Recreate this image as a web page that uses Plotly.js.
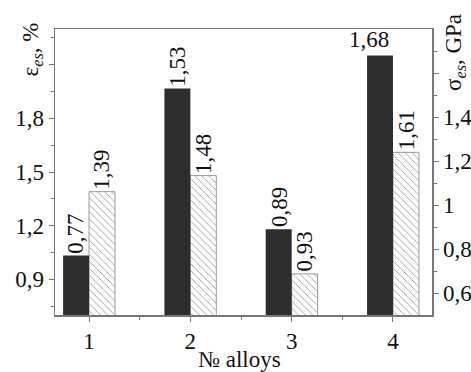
<!DOCTYPE html>
<html>
<head>
<meta charset="utf-8">
<script src="https://cdn.plot.ly/plotly-3.0.1.min.js"></script>
<style>html,body{margin:0;padding:0;background:#fff;}#chart{width:471px;height:372px;}</style>
</head>
<body>
<div id="chart"></div>
<script>
// Data
var alloys = [1, 2, 3, 4];
var alloyTicks = ['1', '2', '3', '4'];
var sigmaGPa = [0.77, 1.53, 0.89, 1.68];   // dark bars, right axis
var epsPct = [1.39, 1.48, 0.93, 1.61];     // hatched bars, left axis
var leftTickVals = [0.9, 1.2, 1.5, 1.8, 2.1];
var leftTickText = ['0,9', '1,2', '1,5', '1,8', ''];
var rightTickVals = [0.6, 0.8, 1.0, 1.2, 1.4, 1.6];
var rightTickText = ['0,6', '0,8', '1', '1,2', '1,4', ''];

var FONT = 'Liberation Serif';
var AX = '#777';
var BW = 0.256;

function fmt(v) { return v.toFixed(2).replace('.', ','); }

var traces = [
  {
    type: 'bar', x: alloys, y: sigmaGPa, yaxis: 'y2',
    offset: -BW, width: BW,
    marker: {color: '#2d2d2d', line: {width: 0}},
    hoverinfo: 'none', showlegend: false
  },
  {
    type: 'bar', x: alloys, y: epsPct, yaxis: 'y',
    offset: 0, width: BW,
    marker: {
      color: 'white',
      line: {color: '#999', width: 1},
      pattern: {shape: '\\', fgcolor: '#8a8a8a', bgcolor: 'white', size: 5, solidity: 0.15}
    },
    hoverinfo: 'none', showlegend: false
  }
];

var ann = [];
for (var i = 0; i < alloys.length; i++) {
  var horiz = (i === 3);
  ann.push({
    x: alloys[i] - BW / 2, y: sigmaGPa[i], xref: 'x', yref: 'y2',
    text: fmt(sigmaGPa[i]), textangle: horiz ? 0 : -90,
    xanchor: 'center', yanchor: 'bottom', yshift: horiz ? 1 : 0, xshift: horiz ? -11 : 0,
    showarrow: false, font: {family: FONT, size: 23, color: '#111'}
  });
  ann.push({
    x: alloys[i] + BW / 2, y: epsPct[i], xref: 'x', yref: 'y',
    text: fmt(epsPct[i]), textangle: -90,
    xanchor: 'center', yanchor: 'bottom', yshift: 0,
    showarrow: false, font: {family: FONT, size: 23, color: '#111'}
  });
}
ann.push({
  xref: 'paper', yref: 'paper', x: -0.06, y: 0.93, textangle: -90,
  text: 'ε<sub><i>es</i></sub>, %', showarrow: false,
  xanchor: 'center', yanchor: 'middle',
  font: {family: FONT, size: 23, color: '#111'}
});
ann.push({
  xref: 'paper', yref: 'paper', x: 1.061, y: 0.92, textangle: -90,
  text: 'σ<sub><i>es</i></sub>, GPa', showarrow: false,
  xanchor: 'center', yanchor: 'middle',
  font: {family: FONT, size: 23, color: '#111'}
});
ann.push({
  xref: 'paper', yref: 'paper', x: 0.49, y: -0.155,
  text: '№ alloys', showarrow: false,
  xanchor: 'center', yanchor: 'middle',
  font: {family: FONT, size: 23, color: '#111'}
});

var layout = {
  width: 471, height: 372,
  margin: {l: 55, r: 39, t: 29, b: 57, pad: 0},
  paper_bgcolor: 'white', plot_bgcolor: 'white',
  font: {family: FONT, size: 23, color: '#111'},
  showlegend: false,
  barmode: 'overlay',
  xaxis: {
    range: [0.664, 4.385], tickmode: 'array', tickvals: alloys, ticktext: alloyTicks,
    ticks: 'outside', ticklen: 5, tickwidth: 1, tickcolor: AX,
    minor: {tickmode: 'array', tickvals: [1.5, 2.5, 3.5], ticks: 'outside', ticklen: 3, tickcolor: AX},
    showline: true, linecolor: AX, linewidth: 1.5, mirror: true,
    showgrid: false, zeroline: false, fixedrange: true,
    tickfont: {family: FONT, size: 23, color: '#111'}
  },
  xaxis2: {
    overlaying: 'x', anchor: 'y', side: 'top', range: [0.664, 4.385],
    tickmode: 'array', tickvals: [1, 1.5, 2, 2.5, 3, 3.5, 4], showticklabels: false,
    ticks: 'inside', ticklen: 4, tickcolor: AX, showline: false, showgrid: false, zeroline: false
  },
  yaxis: {
    range: [0.7, 2.3], tickmode: 'array', tickvals: leftTickVals, ticktext: leftTickText,
    ticks: 'outside', ticklen: 5, tickwidth: 1, tickcolor: AX,
    minor: {tickmode: 'array', tickvals: [0.75, 1.05, 1.35, 1.65, 1.95, 2.25], ticks: 'outside', ticklen: 3, tickcolor: AX},
    showline: true, linecolor: AX, linewidth: 1.5,
    showgrid: false, zeroline: false, fixedrange: true,
    tickfont: {family: FONT, size: 23, color: '#111'}
  },
  yaxis2: {
    overlaying: 'y', side: 'right', anchor: 'x',
    range: [0.5, 1.8], tickmode: 'array', tickvals: rightTickVals, ticktext: rightTickText,
    ticks: 'outside', ticklen: 5, tickwidth: 1, tickcolor: AX,
    minor: {tickmode: 'array', tickvals: [0.7, 0.9, 1.1, 1.3, 1.5, 1.7], ticks: 'outside', ticklen: 3, tickcolor: AX},
    showline: true, linecolor: AX, linewidth: 1.5,
    showgrid: false, zeroline: false, fixedrange: true,
    tickfont: {family: FONT, size: 23, color: '#111'}
  },
  annotations: ann
};

Plotly.newPlot('chart', traces, layout, {staticPlot: true, displayModeBar: false});
</script>
</body>
</html>
